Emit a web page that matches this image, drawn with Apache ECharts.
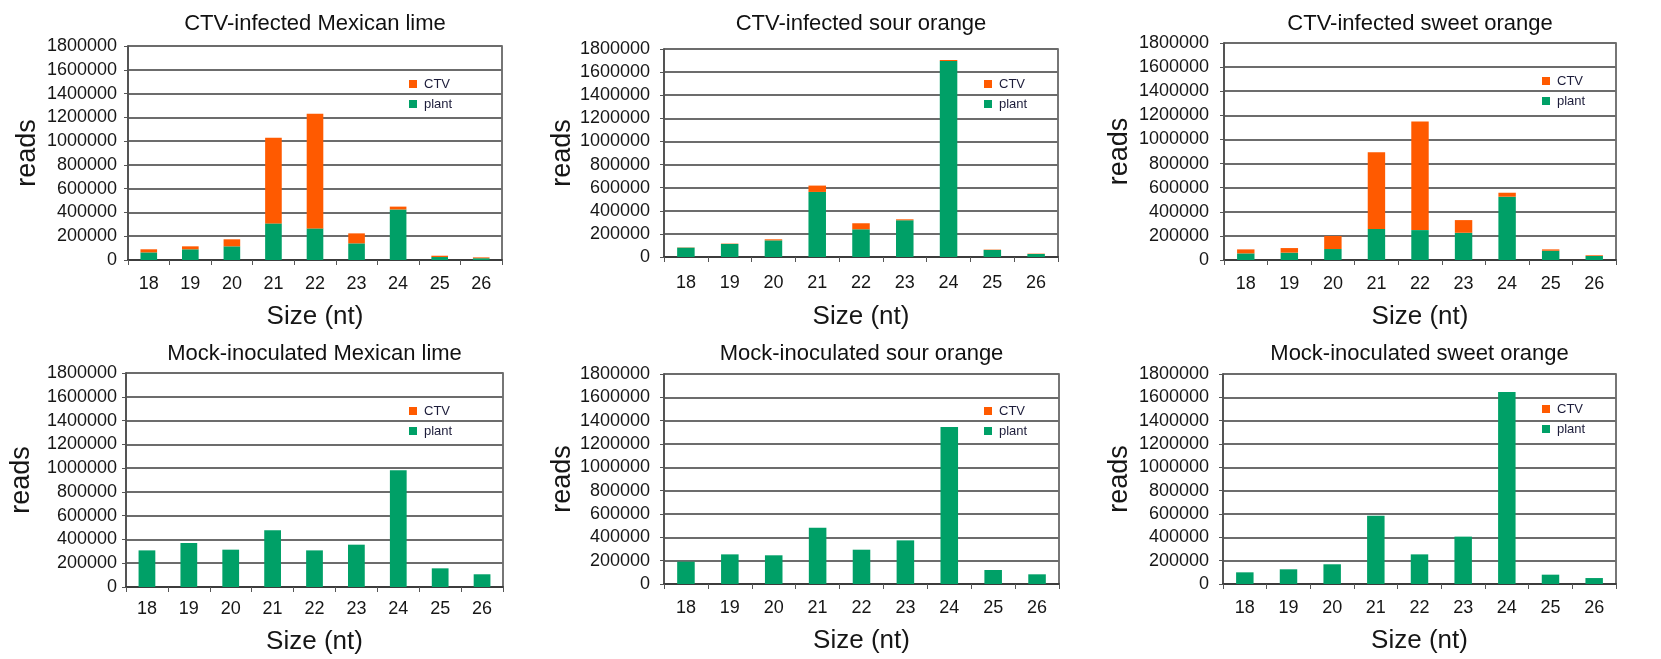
<!DOCTYPE html>
<html>
<head>
<meta charset="utf-8">
<script src="https://cdn.jsdelivr.net/npm/echarts@6/dist/echarts.min.js"></script>
<style>
  html, body { margin: 0; padding: 0; background: #ffffff; }
  #chart { width: 1661px; height: 659px; }
</style>
</head>
<body>
<div id="chart"></div>
<script>
// Small RNA size classes (nt)
const sizes = ['18', '19', '20', '21', '22', '23', '24', '25', '26'];

// Reads per size class: plant-derived and CTV-derived
const infectedLimePlant  = [64000, 90000, 115000, 308000, 266000, 140000, 425000, 25000, 15000];
const infectedLimeCTV    = [26000, 25000, 59000, 721000, 965000, 84000, 24000, 11000, 7000];
const infectedSourPlant  = [81000, 113000, 144000, 563000, 240000, 318000, 1696000, 61000, 26000];
const infectedSourCTV    = [2000, 3000, 9000, 55000, 52000, 8000, 9000, 3000, 3000];
const infectedSweetPlant = [55000, 61000, 91000, 257000, 248000, 226000, 525000, 77000, 33000];
const infectedSweetCTV   = [33000, 38000, 108000, 637000, 900000, 105000, 33000, 11000, 6000];
const mockLimePlant      = [308000, 370000, 314000, 477000, 308000, 356000, 981000, 157000, 107000];
const mockLimeCTV        = [0, 0, 0, 0, 0, 0, 0, 0, 0];
const mockSourPlant      = [191000, 254000, 246000, 483000, 294000, 374000, 1346000, 120000, 83000];
const mockSourCTV        = [0, 0, 0, 0, 0, 0, 0, 0, 0];
const mockSweetPlant     = [100000, 126000, 169000, 586000, 254000, 406000, 1646000, 80000, 51000];
const mockSweetCTV       = [0, 0, 0, 0, 0, 0, 0, 0, 0];

const panelTitles = [
  'CTV-infected Mexican lime', 'CTV-infected sour orange', 'CTV-infected sweet orange',
  'Mock-inoculated Mexican lime', 'Mock-inoculated sour orange', 'Mock-inoculated sweet orange'
];
const plantSeries = [infectedLimePlant, infectedSourPlant, infectedSweetPlant, mockLimePlant, mockSourPlant, mockSweetPlant];
const ctvSeries   = [infectedLimeCTV, infectedSourCTV, infectedSweetCTV, mockLimeCTV, mockSourCTV, mockSweetCTV];

const legendNames = ['CTV', 'plant'];
const yAxisTitle = 'reads';
const xAxisTitle = 'Size (nt)';

// Panel geometry (pixels)
const layout = [
  { left: 128,  top: 46,  width: 374, height: 214, yGap: 87, xGap: 44, yMargin: 11, xMargin: 15, legX: 409,  legY: 77 },
  { left: 664,  top: 49,  width: 394, height: 208, yGap: 84, xGap: 47, yMargin: 14, xMargin: 17, legX: 984,  legY: 77 },
  { left: 1224, top: 43,  width: 392, height: 217, yGap: 91, xGap: 44, yMargin: 15, xMargin: 15, legX: 1542, legY: 74 },
  { left: 126,  top: 373, width: 377, height: 214, yGap: 91, xGap: 42, yMargin: 9,  xMargin: 13, legX: 409,  legY: 404 },
  { left: 664,  top: 374, width: 395, height: 210, yGap: 84, xGap: 44, yMargin: 14, xMargin: 15, legX: 984,  legY: 404 },
  { left: 1223, top: 374, width: 393, height: 210, yGap: 90, xGap: 44, yMargin: 14, xMargin: 15, legX: 1542, legY: 402 }
];
const titleY = [24, 24, 24, 354, 354, 354];

const FONT = '"Liberation Sans", Arial, Helvetica, sans-serif';
const ORANGE = '#ff5a00';
const GREEN = '#00a067';
const TEXT = '#161616';

const grids = [], xAxes = [], yAxes = [], series = [], legends = [], graphics = [];

layout.forEach((g, i) => {
  grids.push({
    left: g.left, top: g.top, width: g.width, height: g.height,
    show: true, borderColor: '#4a4a4a', borderWidth: 1.5, backgroundColor: 'transparent'
  });
  xAxes.push({
    type: 'category', gridIndex: i, data: sizes, boundaryGap: true,
    name: xAxisTitle, nameLocation: 'middle', nameGap: g.xGap,
    nameTextStyle: { fontFamily: FONT, fontSize: 26, color: TEXT },
    axisLine: { show: true, lineStyle: { color: '#3c3c3c', width: 1.8 } },
    axisTick: { show: true, length: 5, lineStyle: { color: '#555555', width: 1 } },
    axisLabel: { fontFamily: FONT, fontSize: 18, color: TEXT, margin: g.xMargin },
    splitLine: { show: false }
  });
  yAxes.push({
    type: 'value', gridIndex: i, min: 0, max: 1800000, interval: 200000,
    name: yAxisTitle, nameLocation: 'middle', nameRotate: 90, nameGap: g.yGap,
    nameTextStyle: { fontFamily: FONT, fontSize: 27, color: TEXT },
    axisLine: { show: true, lineStyle: { color: '#4a4a4a', width: 1.5 } },
    axisTick: { show: true, length: 4, lineStyle: { color: '#555555', width: 1 } },
    axisLabel: { fontFamily: FONT, fontSize: 18, color: TEXT, margin: g.yMargin, formatter: v => String(v) },
    splitLine: { show: true, lineStyle: { color: '#6c6c6c', width: 1.8 } }
  });
  series.push({
    name: 'plant', type: 'bar', xAxisIndex: i, yAxisIndex: i, stack: 'reads' + i,
    data: plantSeries[i], barWidth: '40%', itemStyle: { color: GREEN }
  });
  series.push({
    name: 'CTV', type: 'bar', xAxisIndex: i, yAxisIndex: i, stack: 'reads' + i,
    data: ctvSeries[i], barWidth: '40%', itemStyle: { color: ORANGE }
  });
  legends.push({
    data: legendNames, orient: 'vertical', left: g.legX, top: g.legY, padding: 0,
    itemWidth: 8, itemHeight: 8, itemGap: 6, icon: 'rect', selectedMode: false,
    textStyle: { fontFamily: FONT, fontSize: 13, color: '#1c1c3a', lineHeight: 14, padding: [0, 0, 0, 2] }
  });
  graphics.push({
    type: 'text', x: g.left + g.width / 2, y: titleY[i],
    style: {
      text: panelTitles[i], font: '22px ' + FONT, fill: '#111111',
      textAlign: 'center', textVerticalAlign: 'middle', align: 'center', verticalAlign: 'middle'
    }
  });
});

const chart = echarts.init(document.getElementById('chart'), null, { renderer: 'canvas' });
chart.setOption({
  animation: false,
  backgroundColor: '#ffffff',
  grid: grids,
  xAxis: xAxes,
  yAxis: yAxes,
  legend: legends,
  series: series,
  graphic: graphics
});
</script>
</body>
</html>
